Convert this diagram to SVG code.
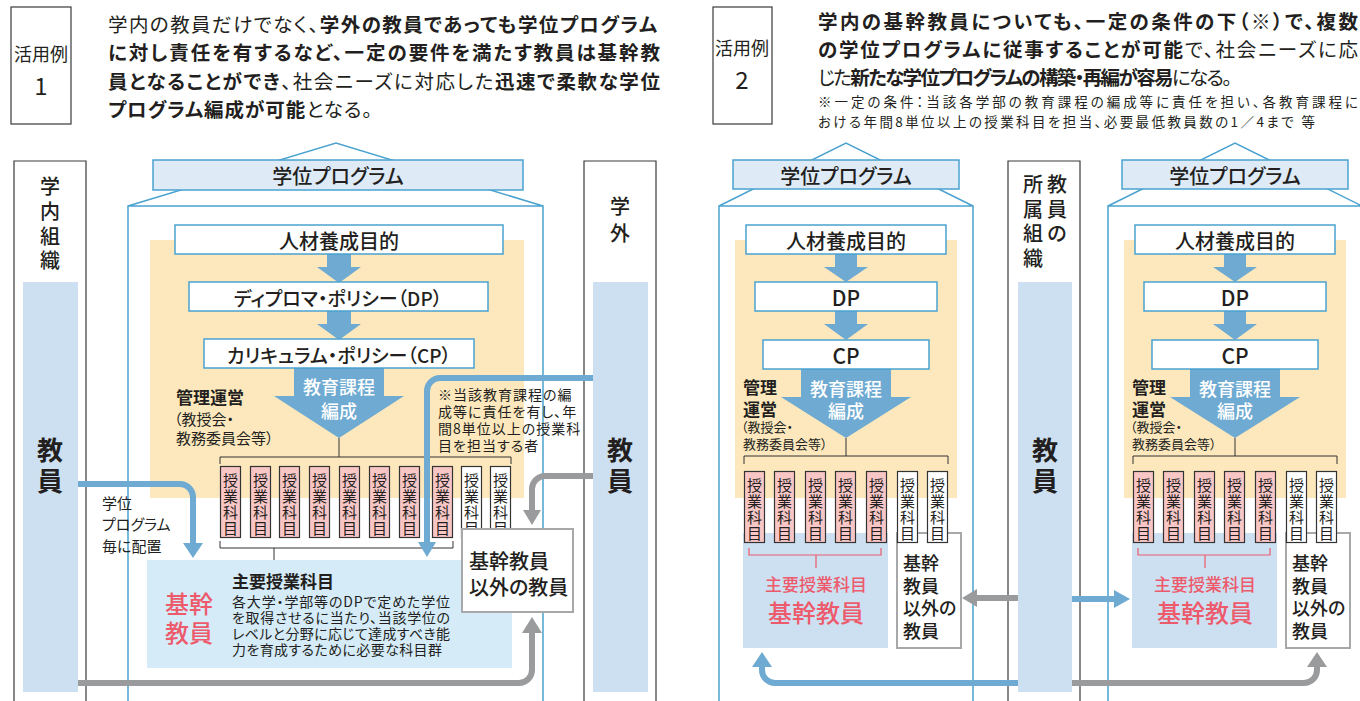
<svg xmlns="http://www.w3.org/2000/svg" xmlns:xlink="http://www.w3.org/1999/xlink" width="1360" height="701" viewBox="0 0 1360 701">
<style>
text{font-family:"Noto Sans CJK JP","Noto Sans",sans-serif;fill:#231f20;dominant-baseline:central;font-feature-settings:"palt"}
.h{font-size:19.5px}
.b{font-weight:700}
.m{font-weight:500}
.c{text-anchor:middle}
.sm{font-size:14px}
.outline{fill:none;stroke:#4aa2d0;stroke-width:1.5}
.tbox{fill:#deebf7;stroke:#4aa2d0;stroke-width:1.5}
.wbox{fill:#fff;stroke:#4aa2d0;stroke-width:1.5}
.yellow{fill:#fde8bd}
.arrow{fill:#6eaad1}
.col{fill:#cde0f1}
.frame{fill:none;stroke:#3a3a3a;stroke-width:1.2}
.hbox{fill:#fff;stroke:#3a3a3a;stroke-width:1.2}
.gbox{fill:#fff;stroke:#a7a8aa;stroke-width:2}
.pinkt{fill:#ec5a6c}
.bl{fill:none;stroke:#6eaad1;stroke-width:6}
.gl{fill:none;stroke:#9a9b9d;stroke-width:6}
.blh{fill:#6eaad1}
.glh{fill:#9a9b9d}
.brk{fill:none;stroke:#333;stroke-width:1}
.pbrk{fill:none;stroke:#ec5a6c;stroke-width:1.2}
.kt{font-size:15px;text-anchor:middle}
.wt{fill:#fff}
</style>
<defs>
<g id="kp">
<rect x="0.5" y="0.5" width="20" height="71" fill="#f9c6c6" stroke="#333" stroke-width="1.2"/>
<text class="kt"><tspan x="10.5" y="13">授</tspan><tspan x="10.5" y="29">業</tspan><tspan x="10.5" y="45">科</tspan><tspan x="10.5" y="61">目</tspan></text>
</g>
<g id="kw">
<rect x="0.5" y="0.5" width="20" height="71" fill="#fff" stroke="#333" stroke-width="1.2"/>
<text class="kt"><tspan x="10.5" y="13">授</tspan><tspan x="10.5" y="29">業</tspan><tspan x="10.5" y="45">科</tspan><tspan x="10.5" y="61">目</tspan></text>
</g>
</defs>

<!-- ===== Example 1 header ===== -->
<g id="ex1-label">
<rect class="hbox" x="11" y="7" width="60" height="117"/>
<text class="c" x="41" y="53" font-size="18">活用例</text>
<text class="c" x="41" y="84" font-size="24">1</text>
</g>
<g id="ex1-text">
<text class="h" x="108" y="23" textLength="549">学内の教員だけでなく、<tspan class="b">学外の教員であっても学位プログラム</tspan></text>
<text class="h b" x="108" y="51" textLength="552">に対し責任を有するなど、一定の要件を満たす教員は基幹教</text>
<text class="h" x="108" y="80" textLength="552"><tspan class="b">員となることができ</tspan>、社会ニーズに対応した<tspan class="b">迅速で柔軟な学位</tspan></text>
<text class="h" x="108" y="108" textLength="264"><tspan class="b">プログラム編成が可能</tspan>となる。</text>
</g>

<!-- ===== Example 2 header ===== -->
<g id="ex2-label">
<rect class="hbox" x="713" y="7" width="59" height="117"/>
<text class="c" x="742" y="47" font-size="18">活用例</text>
<text class="c" x="742" y="78" font-size="24">2</text>
</g>
<g id="ex2-text">
<text class="h b" x="818" y="20" textLength="540">学内の基幹教員についても、一定の条件の下（※）で、複数</text>
<text class="h" x="818" y="48" textLength="540"><tspan class="b">の学位プログラムに従事することが可能</tspan>で、社会ニーズに応</text>
<text class="h" x="818" y="76" textLength="414">じた<tspan class="b">新たな学位プログラムの構築・再編が容易</tspan>になる。</text>
<text x="818" y="101" font-size="13.5" textLength="540">※一定の条件：当該各学部の教育課程の編成等に責任を担い、各教育課程に</text>
<text x="818" y="121" font-size="13.5" textLength="497">おける年間8単位以上の授業科目を担当、必要最低教員数の1／4まで 等</text>
</g>

<!-- ===== Left panel ===== -->
<g id="inner-org">
<path class="frame" d="M14,701 V161 H86 V701"/>
<rect class="col" x="23" y="282" width="55" height="410"/>
<text class="c m" x="50" font-size="20"><tspan x="50" y="185">学</tspan><tspan x="50" y="210">内</tspan><tspan x="50" y="235">組</tspan><tspan x="50" y="259">織</tspan></text>
<text class="c b" x="50" font-size="26"><tspan x="50" y="448">教</tspan><tspan x="50" y="479">員</tspan></text>
</g>

<g id="outer-org">
<path class="frame" d="M584,701 V161 H656 V701"/>
<rect class="col" x="593" y="282" width="55" height="410"/>
<text class="c m" font-size="20"><tspan x="620" y="205">学</tspan><tspan x="620" y="232">外</tspan></text>
<text class="c b" font-size="26"><tspan x="620" y="448">教</tspan><tspan x="620" y="479">員</tspan></text>
</g>

<g id="program1">
<path class="outline" d="M128,701 V206 H543 V701 M128,206 L336,143 L543,206"/>
<rect class="tbox" x="153" y="160" width="370" height="30"/>
<text class="c m" x="338" y="175" font-size="20">学位プログラム</text>
<rect class="yellow" x="150" y="240" width="374" height="258"/>
<polygon class="arrow" points="327,254 351,254 351,267 361,267 339,283 317,267 327,267"/>
<polygon class="arrow" points="327,311 351,311 351,324 361,324 339,340 317,324 327,324"/>
<polygon class="arrow" points="294,368 384,368 384,396 404,396 339,438 274,396 294,396"/>
<rect class="wbox" x="175" y="225" width="328" height="29"/>
<text class="c m" x="339" y="240" font-size="20">人材養成目的</text>
<rect class="wbox" x="189" y="282" width="299" height="29"/>
<text class="c m" x="338" y="297" font-size="19">ディプロマ・ポリシー（DP）</text>
<rect class="wbox" x="204" y="339" width="270" height="29"/>
<text class="c m" x="339" y="354" font-size="19">カリキュラム・ポリシー（CP）</text>
<text class="c wt m" x="339" y="386" font-size="18">教育課程</text>
<text class="c wt m" x="339" y="410" font-size="18">編成</text>
<text class="b" x="176" y="396" font-size="17">管理運営</text>
<text x="174" y="418" font-size="15">（教授会・</text>
<text x="176" y="437" font-size="15">教務委員会等）</text>
<path class="brk" d="M339,438 V457 M220,464 V457 H511 V464"/>
<use xlink:href="#kp" x="220" y="466"/>
<use xlink:href="#kp" x="250" y="466"/>
<use xlink:href="#kp" x="279" y="466"/>
<use xlink:href="#kp" x="309" y="466"/>
<use xlink:href="#kp" x="339" y="466"/>
<use xlink:href="#kp" x="369" y="466"/>
<use xlink:href="#kp" x="399" y="466"/>
<use xlink:href="#kp" x="432" y="466"/>
<use xlink:href="#kw" x="461" y="466"/>
<use xlink:href="#kw" x="490" y="466"/>
<path class="brk" d="M220,541 V548 H453 V541 M274,548 V560"/>
</g>

<g id="core-courses1">
<rect x="147" y="560" width="365" height="108" fill="#d5ebf8"/>
<text class="c pinkt m" font-size="24"><tspan x="189" y="602">基幹</tspan><tspan x="189" y="631">教員</tspan></text>
<text class="b" x="232" y="580" font-size="17">主要授業科目</text>
<text x="232" y="601" font-size="14" textLength="218">各大学・学部等のDPで定めた学位</text>
<text x="232" y="617" font-size="14" textLength="218">を取得させるに当たり、当該学位の</text>
<text x="232" y="633" font-size="14" textLength="218">レベルと分野に応じて達成すべき能</text>
<text x="232" y="649" font-size="14" textLength="210">力を育成するために必要な科目群</text>
</g>

<g id="note1">
<text font-size="14" letter-spacing="1"><tspan x="438" y="394">※当該教育課程の編</tspan><tspan x="438" y="411">成等に責任を有し、年</tspan><tspan x="438" y="428">間8単位以上の授業科</tspan><tspan x="438" y="445">目を担当する者</tspan></text>
</g>

<g id="other-faculty1">
<rect class="gbox" x="462" y="529" width="111" height="83"/>
<text class="m" x="469" y="560" font-size="20">基幹教員</text>
<text class="m" x="469" y="586" font-size="20">以外の教員</text>
</g>

<g id="placement-label">
<text font-size="15"><tspan x="102" y="502">学位</tspan><tspan x="102" y="523">プログラム</tspan><tspan x="102" y="545">毎に配置</tspan></text>
</g>

<!-- ===== Right panel ===== -->
<g id="program2a">
<path class="outline" d="M719,701 V206 H973 V701 M719,206 L846,143 L973,206"/>
<rect class="tbox" x="733" y="160" width="226" height="29"/>
<text class="c m" x="846" y="175" font-size="20">学位プログラム</text>
<rect class="yellow" x="735" y="240" width="222" height="258"/>
<polygon class="arrow" points="835,254 857,254 857,267 868,267 846,282 824,267 835,267"/>
<polygon class="arrow" points="835,311 857,311 857,324 868,324 846,340 824,324 835,324"/>
<polygon class="arrow" points="801,369 891,369 891,397 911,397 846,438 781,397 801,397"/>
<rect class="wbox" x="746" y="225" width="200" height="29"/>
<text class="c m" x="846" y="240" font-size="20">人材養成目的</text>
<rect class="wbox" x="755" y="282" width="182" height="29"/>
<text class="c m" x="846" y="297" font-size="21">DP</text>
<rect class="wbox" x="763" y="340" width="166" height="29"/>
<text class="c m" x="846" y="355" font-size="21">CP</text>
<text class="c wt m" x="846" y="388" font-size="18">教育課程</text>
<text class="c wt m" x="846" y="410" font-size="18">編成</text>
<text class="b" font-size="17"><tspan x="743" y="386">管理</tspan><tspan x="743" y="408">運営</tspan></text>
<text font-size="13"><tspan x="741" y="426">（教授会・</tspan><tspan x="743" y="443">教務委員会等）</tspan></text>
<path class="brk" d="M846,438 V456 M744,464 V456 H948 V464"/>
<rect x="743" y="533" width="145" height="115" fill="#cde0f1"/>
<rect class="gbox" x="897" y="533" width="64" height="115"/>
<use xlink:href="#kp" x="744" y="471"/>
<use xlink:href="#kp" x="774" y="471"/>
<use xlink:href="#kp" x="805" y="471"/>
<use xlink:href="#kp" x="835" y="471"/>
<use xlink:href="#kp" x="866" y="471"/>
<use xlink:href="#kw" x="897" y="471"/>
<use xlink:href="#kw" x="927" y="471"/>
<path class="pbrk" d="M749,548 V555 H881 V548 M816,555 V568"/>
<text class="c pinkt m" x="816" y="583" font-size="17">主要授業科目</text>
<text class="c pinkt m" x="816" y="611" font-size="24">基幹教員</text>
<text class="m" font-size="18"><tspan x="903" y="562">基幹</tspan><tspan x="903" y="585">教員</tspan><tspan x="903" y="607">以外の</tspan><tspan x="903" y="630">教員</tspan></text>
</g>

<g id="home-org">
<path class="frame" d="M1008,701 V161 H1080 V701"/>
<rect class="col" x="1018" y="282" width="54" height="410"/>
<text class="c m" font-size="20"><tspan x="1057" y="183">教</tspan><tspan x="1057" y="208">員</tspan><tspan x="1057" y="232">の</tspan></text>
<text class="c m" font-size="20"><tspan x="1033" y="183">所</tspan><tspan x="1033" y="208">属</tspan><tspan x="1033" y="232">組</tspan><tspan x="1033" y="257">織</tspan></text>
<text class="c b" font-size="26"><tspan x="1045" y="448">教</tspan><tspan x="1045" y="479">員</tspan></text>
</g>

<g id="program2b" transform="translate(389,0)">
<path class="outline" d="M719,701 V206 H973 V701 M719,206 L846,143 L973,206"/>
<rect class="tbox" x="733" y="160" width="226" height="29"/>
<text class="c m" x="846" y="175" font-size="20">学位プログラム</text>
<rect class="yellow" x="735" y="240" width="222" height="258"/>
<polygon class="arrow" points="835,254 857,254 857,267 868,267 846,282 824,267 835,267"/>
<polygon class="arrow" points="835,311 857,311 857,324 868,324 846,340 824,324 835,324"/>
<polygon class="arrow" points="801,369 891,369 891,397 911,397 846,438 781,397 801,397"/>
<rect class="wbox" x="746" y="225" width="200" height="29"/>
<text class="c m" x="846" y="240" font-size="20">人材養成目的</text>
<rect class="wbox" x="755" y="282" width="182" height="29"/>
<text class="c m" x="846" y="297" font-size="21">DP</text>
<rect class="wbox" x="763" y="340" width="166" height="29"/>
<text class="c m" x="846" y="355" font-size="21">CP</text>
<text class="c wt m" x="846" y="388" font-size="18">教育課程</text>
<text class="c wt m" x="846" y="410" font-size="18">編成</text>
<text class="b" font-size="17"><tspan x="743" y="386">管理</tspan><tspan x="743" y="408">運営</tspan></text>
<text font-size="13"><tspan x="741" y="426">（教授会・</tspan><tspan x="743" y="443">教務委員会等）</tspan></text>
<path class="brk" d="M846,438 V456 M744,464 V456 H948 V464"/>
<rect x="743" y="533" width="145" height="115" fill="#cde0f1"/>
<rect class="gbox" x="897" y="533" width="64" height="115"/>
<use xlink:href="#kp" x="744" y="471"/>
<use xlink:href="#kp" x="774" y="471"/>
<use xlink:href="#kp" x="805" y="471"/>
<use xlink:href="#kp" x="835" y="471"/>
<use xlink:href="#kp" x="866" y="471"/>
<use xlink:href="#kw" x="897" y="471"/>
<use xlink:href="#kw" x="927" y="471"/>
<path class="pbrk" d="M749,548 V555 H881 V548 M816,555 V568"/>
<text class="c pinkt m" x="816" y="583" font-size="17">主要授業科目</text>
<text class="c pinkt m" x="816" y="611" font-size="24">基幹教員</text>
<text class="m" font-size="18"><tspan x="903" y="562">基幹</tspan><tspan x="903" y="585">教員</tspan><tspan x="903" y="607">以外の</tspan><tspan x="903" y="630">教員</tspan></text>
</g>

<!-- ===== Connectors ===== -->
<g id="connectors">
<path class="bl" d="M78,484 H180 A13,13 0 0 1 193,497 V545"/>
<polygon class="blh" points="183,543 203,543 193,558"/>
<path class="bl" d="M593,378 H440 A13,13 0 0 0 427,391 V543"/>
<polygon class="blh" points="418,542 436,542 427,557"/>
<path class="gl" d="M593,476 H545 A13,13 0 0 0 532,489 V511"/>
<polygon class="glh" points="523,510 541,510 532,525"/>
<path class="gl" d="M78,683 H519 A13,13 0 0 0 532,670 V632"/>
<polygon class="glh" points="522,633 542,633 532,617"/>
<path class="gl" d="M1018,598 H976"/>
<polygon class="glh" points="977,589 977,607 962,598"/>
<path class="bl" d="M1018,683 H775 A13,13 0 0 1 762,670 V665"/>
<polygon class="blh" points="752,667 772,667 762,652"/>
<path class="bl" d="M1072,599 H1115"/>
<polygon class="blh" points="1114,590 1114,608 1130,599"/>
<path class="gl" d="M1072,683 H1304 A13,13 0 0 0 1317,670 V665"/>
<polygon class="glh" points="1307,667 1327,667 1317,652"/>
</g>
</svg>
